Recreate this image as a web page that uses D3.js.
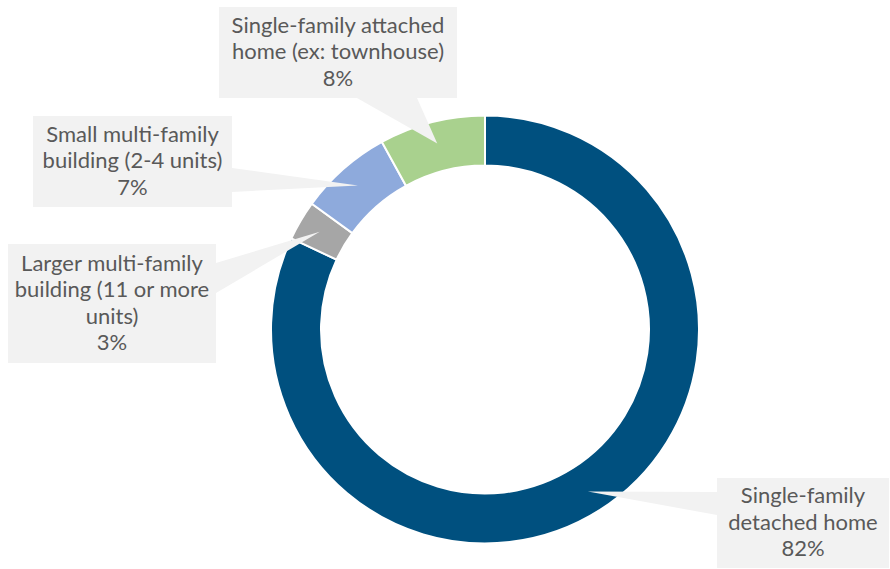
<!DOCTYPE html>
<html>
<head>
<meta charset="utf-8">
<script src="https://cdn.jsdelivr.net/npm/d3@7"></script>
<style>
  body { margin: 0; background: #fff; }
  svg { display: block; }
  text { font-family: Lato, "Open Sans", sans-serif; fill: #595959; }
</style>
</head>
<body>
<svg id="chart" width="890" height="569"></svg>
<script>
// housing types, clockwise from 12 o'clock
var categories = [
  "Single-family detached home",
  "Larger multi-family building (11 or more units)",
  "Small multi-family building (2-4 units)",
  "Single-family attached home (ex: townhouse)"
];
var shares = [82, 3, 7, 8];
var colors = ["#00507f", "#a6a6a6", "#8eaadc", "#a9d18e"];

// how each callout label is broken into lines
var labelLines = [
  ["Single-family", "detached home"],
  ["Larger multi-family", "building (11 or more", "units)"],
  ["Small multi-family", "building (2-4 units)"],
  ["Single-family attached", "home (ex: townhouse)"]
];

// callout boxes: x, y, w, h and where the pointer leaves the box
var boxes = [
  { x: 717, y: 478, w: 172, h: 90, base: [[717, 492], [717, 515]] },
  { x: 8, y: 244, w: 208, h: 119, base: [[216, 263], [216, 293]] },
  { x: 33, y: 116, w: 199, h: 91, base: [[232, 168], [232, 192]] },
  { x: 219, y: 7, w: 238, h: 91, base: [[357, 98], [417, 98]] }
];

var svg = d3.select("#chart");
var cx = 485, cy = 329.5, outer = 214, inner = 164;

var pie = d3.pie().sort(null).value(d => d)(shares);
var arc = d3.arc().innerRadius(inner).outerRadius(outer);
var tipArc = d3.arc().innerRadius(192).outerRadius(192);

var g = svg.append("g").attr("transform", `translate(${cx},${cy})`);

function pointer(d, i) {
  var b = boxes[i];
  var tip = tipArc.centroid(d);
  return d3.line()([b.base[0], [tip[0] + cx, tip[1] + cy], b.base[1]]) + "Z";
}

g.selectAll("path")
  .data(pie)
  .join("path")
  .attr("d", arc)
  .attr("fill", (d, i) => colors[i])
  .attr("stroke", "#fff")
  .attr("stroke-width", 2);

// pointers sit over the ring
svg.append("g")
  .selectAll("path")
  .data(pie)
  .join("path")
  .attr("d", pointer)
  .attr("fill", "#f2f2f2");

pie.forEach(function (d, i) {
  var b = boxes[i];
  svg.append("rect")
    .attr("x", b.x).attr("y", b.y)
    .attr("width", b.w).attr("height", b.h)
    .attr("fill", "#f2f2f2");

  var lines = labelLines[i].concat([shares[i] + "%"]);
  var lh = 26.5;
  var top = b.y + b.h / 2 - (lines.length * lh) / 2;
  var t = svg.append("text")
    .attr("text-anchor", "middle")
    .attr("font-size", 22);
  lines.forEach(function (s, j) {
    t.append("tspan")
      .attr("x", b.x + b.w / 2)
      .attr("y", top + lh * j + lh * 0.76)
      .text(s);
  });
});
</script>
</body>
</html>
